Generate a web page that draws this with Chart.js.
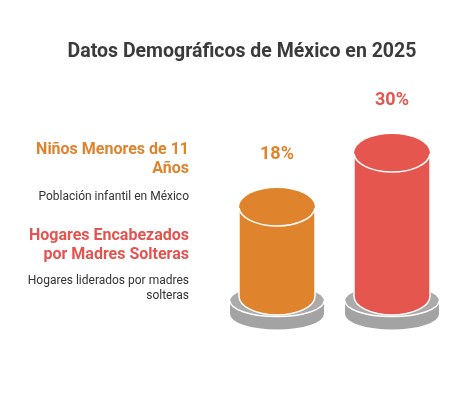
<!DOCTYPE html>
<html>
<head>
<meta charset="utf-8">
<script src="https://cdn.jsdelivr.net/npm/chart.js@4/dist/chart.umd.min.js"></script>
<style>
  html, body { margin: 0; padding: 0; background: #fff; }
  body { width: 459px; height: 393px; position: relative; overflow: hidden; font-family: Roboto, sans-serif; }
  #chartBox { position: absolute; left: 0; top: 0; width: 459px; height: 393px; }
  .title { position: absolute; left: 0; width: 484px; top: 39px; text-align: center; font-size: 19.5px; font-weight: 700; color: #3b3b3b; }
  .item { position: absolute; right: 270px; width: 200px; text-align: right; }
  .head { font-size: 16px; font-weight: 700; line-height: 19px; }
  .desc { font-size: 12px; line-height: 14.5px; color: #333; }
</style>
</head>
<body>
<div id="chartBox"><canvas id="cyl"></canvas></div>
<div class="title">Datos Demográficos de México en 2025</div>
<div class="item head" style="top:139px;color:#e0832d">Niños Menores de 11<br>Años</div>
<div class="item desc" style="top:189px">Población infantil en México</div>
<div class="item head" style="top:225px;color:#e5534f">Hogares Encabezados<br>por Madres Solteras</div>
<div class="item desc" style="top:273px">Hogares liderados por madres<br>solteras</div>
<script>
// chart data
const categories = ['Niños Menores de 11 Años', 'Hogares Encabezados por Madres Solteras'];
const values = [18, 30];
const barColors = ['#e0832d', '#e5564f'];

// draws the cylinders and their gray plinths on top of the (invisible) bars
const cylinderPlugin = {
  id: 'cylinders',
  afterDatasetsDraw(chart) {
    const ctx = chart.ctx;
    const meta = chart.getDatasetMeta(0);
    const bottom = chart.chartArea.bottom;
    meta.data.forEach((bar, i) => {
      const x = bar.x;
      const top = bar.y;
      const rx = bar.width / 2;
      const ry = 19;
      const color = barColors[i];

      // plinth
      const px = rx + 9, py = bottom + 5, pry = 15.5, thick = 13;
      ctx.save();
      ctx.fillStyle = '#a3a3a3';
      ctx.beginPath();
      ctx.ellipse(x, py + thick, px, pry, 0, 0, Math.PI * 2);
      ctx.fill();
      ctx.fillRect(x - px, py, px * 2, thick);
      ctx.fillStyle = '#ababab';
      ctx.beginPath();
      ctx.ellipse(x, py, px, pry, 0, 0, Math.PI * 2);
      ctx.fill();
      ctx.strokeStyle = '#fff';
      ctx.lineWidth = 1.5;
      ctx.beginPath();
      ctx.ellipse(x, py, px, pry, 0, 0, Math.PI);
      ctx.stroke();

      // body
      ctx.fillStyle = color;
      ctx.beginPath();
      ctx.moveTo(x - rx, top);
      ctx.lineTo(x - rx, bottom);
      ctx.ellipse(x, bottom, rx, ry, 0, Math.PI, 0, true);
      ctx.lineTo(x + rx, top);
      ctx.closePath();
      ctx.fill();
      ctx.strokeStyle = '#fff';
      ctx.lineWidth = 1.5;
      ctx.beginPath();
      ctx.moveTo(x - rx, top);
      ctx.lineTo(x - rx, bottom);
      ctx.ellipse(x, bottom, rx, ry, 0, Math.PI, 0, true);
      ctx.lineTo(x + rx, top);
      ctx.stroke();

      // top cap
      ctx.fillStyle = color;
      ctx.beginPath();
      ctx.ellipse(x, top, rx, ry, 0, 0, Math.PI * 2);
      ctx.fill();
      ctx.beginPath();
      ctx.ellipse(x, top, rx, ry, 0, 0.05, Math.PI - 0.05);
      ctx.stroke();

      // value label
      ctx.fillStyle = color;
      ctx.font = 'bold 18px Roboto, sans-serif';
      ctx.textAlign = 'center';
      ctx.textBaseline = 'middle';
      ctx.fillText(values[i] + '%', x, top - 52);
      ctx.restore();
    });
  }
};

new Chart(document.getElementById('cyl'), {
  type: 'bar',
  data: {
    labels: categories,
    datasets: [{
      data: values,
      backgroundColor: 'rgba(0,0,0,0)',
      borderWidth: 0,
      categoryPercentage: 1,
      barPercentage: 0.661
    }]
  },
  options: {
    responsive: true,
    maintainAspectRatio: false,
    animation: false,
    layout: { padding: { left: 219.5, right: 9.5, top: 108, bottom: 97 } },
    plugins: { legend: { display: false }, tooltip: { enabled: false } },
    scales: {
      x: { display: false },
      y: { display: false, min: -1.8, max: 40 }
    }
  },
  plugins: [cylinderPlugin]
});
</script>
</body>
</html>
